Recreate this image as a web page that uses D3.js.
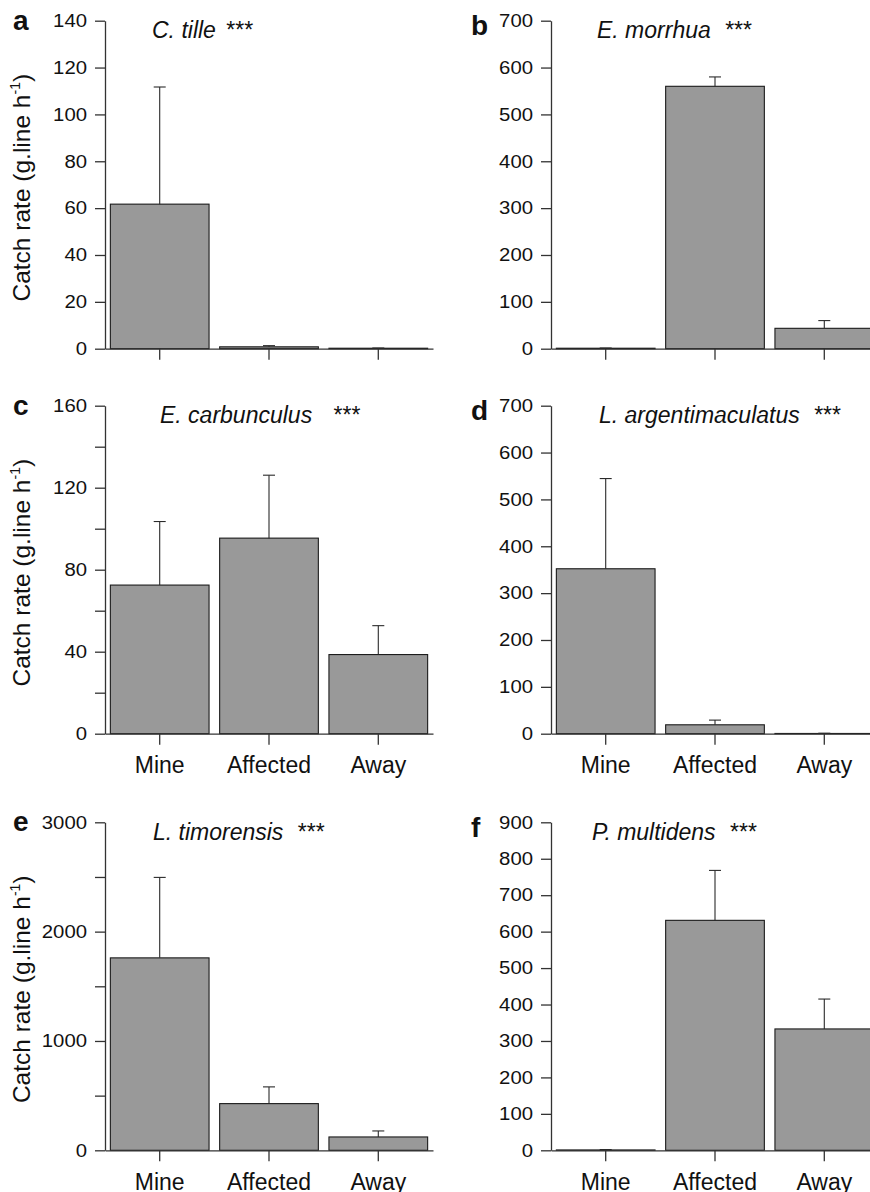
<!DOCTYPE html>
<html>
<head>
<meta charset="utf-8">
<script src="https://cdn.jsdelivr.net/npm/d3@7"></script>
<style>
  body { margin: 0; background: #fff; }
  svg { display: block; font-family: "Liberation Sans", Arial, Helvetica, sans-serif; }
</style>
</head>
<body>
<div id="chart"></div>
<script>
// data
var categories = ["Mine", "Affected", "Away"];
var letters = ["a", "b", "c", "d", "e", "f"];
var species = ["C. tille", "E. morrhua", "E. carbunculus", "L. argentimaculatus", "L. timorensis", "P. multidens"];
var means = [
  [61.7, 0.8, 0.2],
  [1, 560, 43.5],
  [72.5, 95.4, 38.6],
  [352, 19, 0.5],
  [1760, 427, 122],
  [1, 631, 333]
];
var upper = [
  [111.7, 1.3, 0.3],
  [1.5, 580, 60],
  [103.5, 126.1, 52.7],
  [544.5, 29, 1],
  [2496, 580, 177],
  [2, 768, 415]
];
var yMax = [140, 700, 160, 700, 3000, 900];
var yTicks = [
  [0, 20, 40, 60, 80, 100, 120, 140],
  [0, 100, 200, 300, 400, 500, 600, 700],
  [0, 20, 40, 60, 80, 100, 120, 140, 160],
  [0, 100, 200, 300, 400, 500, 600, 700],
  [0, 500, 1000, 1500, 2000, 2500, 3000],
  [0, 100, 200, 300, 400, 500, 600, 700, 800, 900]
];
var yLabelled = [
  [0, 20, 40, 60, 80, 100, 120, 140],
  [0, 100, 200, 300, 400, 500, 600, 700],
  [0, 40, 80, 120, 160],
  [0, 100, 200, 300, 400, 500, 600, 700],
  [0, 1000, 2000, 3000],
  [0, 100, 200, 300, 400, 500, 600, 700, 800, 900]
];

// layout
var W = 870, H = 1192;
var rowTop = [20.7, 405.7, 822.3];
var colLeft = [105, 551];
var plotH = 328, plotW = 328;
var titleDx = [47, 46, 55, 48, 48, 41];
var starGap = [4, 8, 15, 8, 8, 8];
var stretch = 1.13; // tick labels look horizontally stretched

var svg = d3.select("#chart").append("svg")
  .attr("width", W)
  .attr("height", H);

letters.forEach(function(letter, i) {
  var row = Math.floor(i / 2), col = i % 2;
  var left = colLeft[col], top = rowTop[row];

  var g = svg.append("g")
    .attr("transform", "translate(" + left + "," + top + ")");

  var x = d3.scaleBand()
    .domain(categories)
    .range([0, plotW])
    .paddingInner(0.097)
    .paddingOuter(0.049);

  var y = d3.scaleLinear()
    .domain([0, yMax[i]])
    .range([plotH, 0]);

  var data = categories.map(function(c, j) {
    return { cat: c, mean: means[i][j], up: upper[i][j] };
  });

  // bars
  g.selectAll(".bar")
    .data(data)
    .enter().append("rect")
      .attr("class", "bar")
      .attr("x", function(d) { return x(d.cat); })
      .attr("width", x.bandwidth())
      .attr("y", function(d) { return y(d.mean); })
      .attr("height", function(d) { return plotH - y(d.mean); })
      .attr("fill", "#999999")
      .attr("stroke", "#1a1a1a")
      .attr("stroke-width", 1.1);

  // error bars (upper only)
  var cap = 6;
  var err = g.selectAll(".err")
    .data(data)
    .enter().append("g")
      .attr("class", "err")
      .attr("stroke", "#2a2a2a")
      .attr("stroke-width", 1.1);
  err.append("line")
    .attr("x1", function(d) { return x(d.cat) + x.bandwidth() / 2; })
    .attr("x2", function(d) { return x(d.cat) + x.bandwidth() / 2; })
    .attr("y1", function(d) { return y(d.mean); })
    .attr("y2", function(d) { return y(d.up); });
  err.append("line")
    .attr("x1", function(d) { return x(d.cat) + x.bandwidth() / 2 - cap; })
    .attr("x2", function(d) { return x(d.cat) + x.bandwidth() / 2 + cap; })
    .attr("y1", function(d) { return y(d.up); })
    .attr("y2", function(d) { return y(d.up); });

  // y axis
  var yAxis = g.append("g")
    .call(d3.axisLeft(y)
      .tickValues(yTicks[i])
      .tickSize(10)
      .tickSizeOuter(0)
      .tickPadding(8)
      .tickFormat(function(v) { return yLabelled[i].indexOf(v) !== -1 ? v : ""; }));
  yAxis.selectAll("text")
    .attr("font-size", 18)
    .attr("font-family", "Liberation Sans, Arial, sans-serif")
    .attr("fill", "#111")
    .attr("x", -18 / stretch)
    .attr("transform", "scale(" + stretch + ",1)");

  // x axis
  var xAxis = g.append("g")
    .attr("transform", "translate(0," + plotH + ")")
    .call(d3.axisBottom(x)
      .tickSize(11)
      .tickSizeOuter(0)
      .tickPadding(12)
      .tickFormat(row === 0 ? "" : null));
  xAxis.selectAll("text")
    .attr("font-size", 23)
    .attr("font-family", "Liberation Sans, Arial, sans-serif")
    .attr("fill", "#111");

  g.selectAll(".domain, .tick line")
    .attr("stroke", "#333")
    .attr("stroke-width", 1.3);

  // species title
  var t = g.append("text")
    .attr("x", titleDx[i])
    .attr("y", 17.3)
    .attr("font-size", 23)
    .attr("font-style", "italic")
    .attr("fill", "#111");
  t.append("tspan").text(species[i] + " ");
  t.append("tspan").attr("dx", starGap[i]).attr("font-style", "normal").text("***");

  // panel letter
  svg.append("text")
    .attr("x", col === 0 ? 13 : 471)
    .attr("y", top + (col === 0 ? 8.8 : 14.5))
    .attr("font-size", 28)
    .attr("font-weight", "bold")
    .attr("fill", "#111")
    .text(letter);

  // y axis label on the left column
  if (col === 0) {
    var lab = svg.append("text")
      .attr("transform", "translate(30," + (top + plotH / 2 + 3) + ") rotate(-90)")
      .attr("text-anchor", "middle")
      .attr("font-size", 24.5)
      .attr("fill", "#111");
    lab.append("tspan").text("Catch rate (g.line h");
    lab.append("tspan").attr("font-size", 14).attr("dy", -10).text("-1");
    lab.append("tspan").attr("dy", 10).text(")");
  }
});
</script>
</body>
</html>
